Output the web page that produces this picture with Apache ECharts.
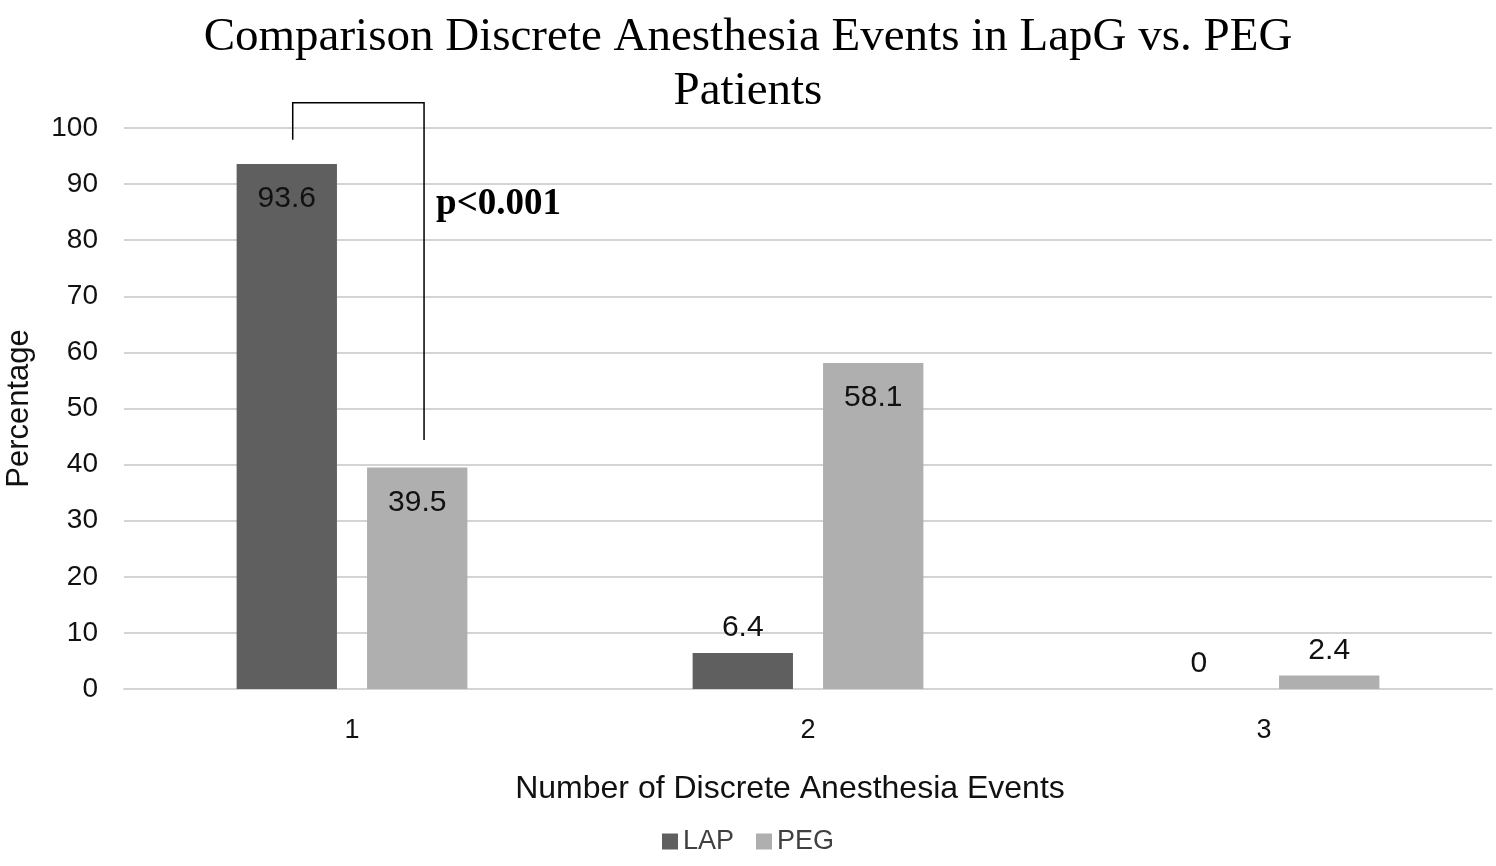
<!DOCTYPE html>
<html>
<head>
<meta charset="utf-8">
<script src="https://cdn.jsdelivr.net/npm/echarts@6/dist/echarts.min.js"></script>
<style>html,body{margin:0;padding:0;background:#fff;}#chart{width:1496px;height:866px;}</style>
</head>
<body>
<div id="chart"></div>
<script>
const titleText = 'Comparison Discrete Anesthesia Events in LapG vs. PEG\nPatients';
const categories = ['1', '2', '3'];
const seriesNames = ['LAP', 'PEG'];
const lapValues = [93.6, 6.4, 0];
const pegValues = [39.5, 58.1, 2.4];
const yMin = 0, yMax = 100, yInterval = 10;
const xAxisName = 'Number of Discrete Anesthesia Events';
const yAxisName = 'Percentage';
// bracket: [categoryIndex, leftEnd, rightEnd, top, textY]
const bracket = [0, 97.9, 44.4, 104.5, 86.3];
const pText = 'p<0.001';

const colors = ['#5f5f5f', '#afafaf'];
const sans = '"Liberation Sans", Arial, sans-serif';
const serif = '"Liberation Serif", "Times New Roman", serif';

function mkData(vals) {
  return vals.map(v => ({
    value: v,
    label: v > 20 ? { position: 'insideTop', distance: 20 } : { position: 'top', distance: 10 }
  }));
}

const chart = echarts.init(document.getElementById('chart'));
chart.setOption({
  backgroundColor: '#fff',
  animation: false,
  title: {
    text: titleText,
    left: 'center',
    top: 6,
    textStyle: { fontFamily: serif, fontSize: 47, fontWeight: 'normal', color: '#000', lineHeight: 54 }
  },
  legend: {
    data: seriesNames,
    bottom: 6,
    left: 'center',
    icon: 'rect',
    itemWidth: 16,
    itemHeight: 16,
    itemGap: 22,
    textStyle: { fontFamily: sans, fontSize: 27, color: '#404040' }
  },
  grid: { left: 124, right: 4, top: 128, bottom: 177, containLabel: false, outerBoundsMode: 'none' },
  xAxis: {
    type: 'category',
    data: categories,
    name: xAxisName,
    nameLocation: 'middle',
    nameGap: 84,
    nameTextStyle: { fontFamily: sans, fontSize: 32, color: '#111', padding: [0, 36, 0, 0] },
    axisLine: { lineStyle: { color: '#d4d4d4', width: 2 } },
    axisTick: { show: false },
    axisLabel: { fontFamily: sans, fontSize: 27, color: '#111', margin: 28 }
  },
  yAxis: {
    type: 'value',
    min: yMin, max: yMax, interval: yInterval,
    name: yAxisName,
    nameLocation: 'middle',
    nameGap: 89,
    nameTextStyle: { fontFamily: sans, fontSize: 31, color: '#111' },
    axisLine: { show: false },
    axisTick: { show: false },
    axisLabel: { fontFamily: sans, fontSize: 28, color: '#111', margin: 26 },
    splitLine: { lineStyle: { color: '#d4d4d4', width: 2 } }
  },
  series: [
    {
      name: seriesNames[0], type: 'bar', data: mkData(lapValues),
      barWidth: '22%', barGap: '30%',
      itemStyle: { color: colors[0] },
      label: { show: true, fontFamily: sans, fontSize: 30, color: '#111' }
    },
    {
      name: seriesNames[1], type: 'bar', data: mkData(pegValues),
      barWidth: '22%', barGap: '30%',
      itemStyle: { color: colors[1] },
      label: { show: true, fontFamily: sans, fontSize: 30, color: '#111' }
    },
    {
      type: 'custom',
      silent: true,
      clip: false,
      z: 10,
      data: [bracket],
      renderItem: function (params, api) {
        const top = api.coord([api.value(0), api.value(3)]);
        const band = api.size([1, 0])[0];
        const xl = top[0] - 0.13 * band;
        const xr = top[0] + 0.158 * band;
        const yL = api.coord([api.value(0), api.value(1)])[1];
        const yR = api.coord([api.value(0), api.value(2)])[1];
        const yT = api.coord([api.value(0), api.value(4)])[1];
        return {
          type: 'group',
          children: [
            { type: 'polyline', shape: { points: [[xl, yL], [xl, top[1]], [xr, top[1]], [xr, yR]] },
              style: { stroke: '#000', lineWidth: 1.5, fill: null } },
            { type: 'text', x: xr + 12, y: yT,
              style: { text: pText, font: 'bold 37px ' + serif, fill: '#000', verticalAlign: 'middle', align: 'left' } }
          ]
        };
      }
    }
  ]
});
</script>
</body>
</html>
